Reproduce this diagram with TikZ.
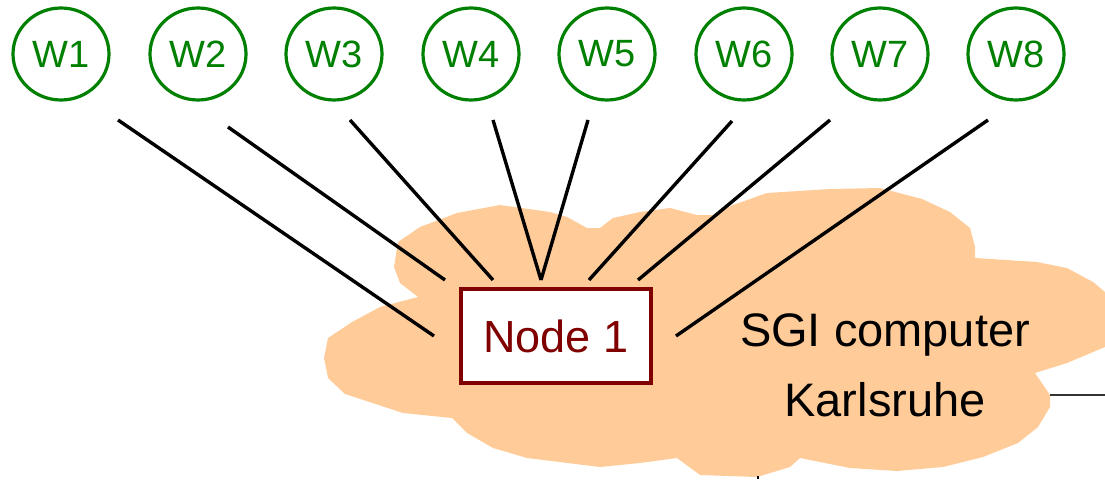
\documentclass[tikz,border=0pt]{standalone}
\usepackage{fontspec}
\setmainfont{Liberation Sans}
\usetikzlibrary{shapes.geometric}
\definecolor{wgreen}{RGB}{0,128,0}
\definecolor{nred}{RGB}{128,0,0}
\definecolor{peach}{RGB}{255,204,153}
\tikzset{
  worker/.style={ellipse, draw=wgreen, line width=3.2pt, text=wgreen, minimum width=96pt, minimum height=92pt, inner sep=0pt, font=\fontsize{38}{40}\selectfont},
  nodebox/.style={draw=nred, line width=3.2pt, fill=white, text=nred, minimum width=190pt, minimum height=94pt, inner sep=0pt, font=\fontsize{45}{48}\selectfont},
  link/.style={line width=3.4pt, black},
  cloudlabel/.style={align=center, font=\fontsize{47}{70}\selectfont, text=black},
}
\begin{document}
\begin{tikzpicture}[x=1pt,y=-1pt]
\useasboundingbox (0,0) rectangle (1105,479);
% cloud
\fill[peach] (500,205) -- (550,212) -- (567,217) -- (587,228) -- (600,228) -- (613,218) -- (640,212) -- (670,208) -- (697,215) -- (713,215) -- (733,205) -- (767,193) -- (830,189) -- (880,188) -- (922,199) -- (950,212) -- (970,228) -- (975,247) -- (975,258) -- (1037,262) -- (1067,268) -- (1093,282) -- (1105,292) -- (1105,347) -- (1067,363) -- (1035,373) -- (1050,395) -- (1050,407) -- (1038,427) -- (1018,443) -- (983,457) -- (943,467) -- (897,471) -- (850,468) -- (800,458) -- (790,467) -- (757,477) -- (700,475) -- (677,458) -- (640,463) -- (600,467) -- (527,458) -- (493,448) -- (467,433) -- (452,418) -- (403,413) -- (345,394) -- (328,378) -- (324,358) -- (328,338) -- (352,322) -- (380,307) -- (418,297) -- (400,283) -- (394,267) -- (398,242) -- (420,227) -- (457,213) -- cycle;
% outgoing line on the right
\coordinate (outR) at (1105,395);
\coordinate (cloudR) at (1050,395);
\draw[line width=1.6pt, black!80] (cloudR) -- (outR);
\coordinate (tickA) at (758,476);
\coordinate (tickB) at (758,479);
\draw[line width=1.2pt] (tickA) -- (tickB);
% workers
\foreach \i/\x in {1/61,2/198,3/334,4/471,5/607,6/744,7/880,8/1016}
  \node[worker] (W\i) at (\x,54) {W\i};
% central node
\node[nodebox] (N1) at (556,336) {Node 1};
\node[cloudlabel] (sgi) at (885,365) {SGI computer\\Karlsruhe};
% connector end points
\coordinate (s1) at (118,120); \coordinate (e1) at (434,336);
\coordinate (s2) at (228,127); \coordinate (e2) at (445,280);
\coordinate (s3) at (350,120); \coordinate (e3) at (493,280);
\coordinate (s4) at (493,120); \coordinate (e4) at (541,280);
\coordinate (s5) at (588,120); \coordinate (e5) at (541,280);
\coordinate (s6) at (732,121); \coordinate (e6) at (589,280);
\coordinate (s7) at (830,120); \coordinate (e7) at (638,280);
\coordinate (s8) at (988,120); \coordinate (e8) at (676,336);
\foreach \i in {1,...,8}
  \draw[link] (s\i) -- (e\i);
\end{tikzpicture}
\end{document}
